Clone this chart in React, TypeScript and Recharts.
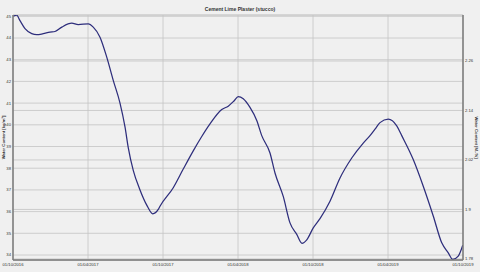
import { LineChart, Line, XAxis, YAxis, CartesianGrid } from 'recharts';

// months since 01/10/2016
const months = [
  0.02, 0.3, 0.56, 0.96, 1.5, 1.9, 2.42, 2.96, 3.36, 3.9, 4.7, 5.22, 6.02, 6.42, 6.96, 7.5,
  8.02, 8.56, 8.96, 9.22, 9.62, 10.16, 10.7, 11.18, 11.62, 11.76, 12.82, 13.62, 14.42, 15.1,
  15.76, 16.7, 17.22, 17.68, 18.02, 18.42, 18.96, 19.5, 19.9, 20.56, 20.96, 21.62, 22.16,
  22.7, 23.12, 23.5, 24.02, 24.56, 25.36, 26.16, 27.1, 28.02, 28.56, 28.96, 29.36, 30.02,
  30.7, 31.1, 32.02, 32.82, 33.62, 34.3, 34.82, 35.18, 35.62, 35.98,
];

// kg/m³
const waterContent = [
  45.0, 45.05, 44.8, 44.43, 44.2, 44.15, 44.2, 44.27, 44.3, 44.5, 44.68, 44.62, 44.65, 44.5,
  44.04, 43.12, 42.05, 41.0, 39.9, 38.95, 37.9, 37.0, 36.3, 35.9, 36.1, 36.25, 37.1, 37.96,
  38.8, 39.46, 40.04, 40.7, 40.86, 41.1, 41.3, 41.2, 40.8, 40.2, 39.5, 38.7, 37.78, 36.7,
  35.48, 34.95, 34.54, 34.7, 35.25, 35.68, 36.48, 37.55, 38.47, 39.16, 39.5, 39.8, 40.1,
  40.26, 39.95, 39.5, 38.4, 37.17, 35.8, 34.56, 34.1, 33.8, 33.95, 34.45,
];

const xTicks = [0, 6, 12, 18, 24, 30, 36];
const dateLabels = ['01/10/2016', '01/04/2017', '01/10/2017', '01/04/2018', '01/10/2018', '01/04/2019', '01/10/2019'];
const leftTicks = [34, 35, 36, 37, 38, 39, 40, 41, 42, 43, 44, 45];
const rightTicks = [1.78, 1.9, 2.02, 2.14, 2.26];

const leftDomain = [33.77, 45.06];
const density = 19; // kg/m³ per M.-%
const rightDomain = [leftDomain[0] / density, leftDomain[1] / density];

const data = months.map((m, i) => ({ m, wc: waterContent[i] }));

const tickStyle = { fontSize: 4.2, fill: '#333', fontFamily: 'Liberation Sans, Arial, sans-serif' };
const axisStroke = '#7a7a7a';

export default function App() {
  return (
    <div style={{ position: 'fixed', left: 0, top: 0, width: 480, height: 272, background: '#f0f0f0' }}>
      <div
        style={{
          position: 'absolute', left: 0, top: 6, width: 480, textAlign: 'center',
          fontSize: 5, fontWeight: 'bold', color: '#333', fontFamily: 'Liberation Sans, Arial, sans-serif',
        }}
      >
        Cement Lime Plaster (stucco)
      </div>
      <LineChart width={480} height={272} data={data} margin={{ top: 15, right: 0, bottom: 0, left: 0 }}>
        <CartesianGrid yAxisId="left" stroke="#c4c4c4" strokeWidth={0.8} vertical horizontal />
        <CartesianGrid yAxisId="right" stroke="#c4c4c4" strokeWidth={0.8} vertical={false} horizontal />
        <XAxis
          dataKey="m"
          type="number"
          domain={[0, 36]}
          ticks={xTicks}
          tickFormatter={(v: number) => dateLabels[xTicks.indexOf(v)] ?? ''}
          height={12}
          interval={0}
          tick={tickStyle}
          tickLine={false}
          tickSize={0}
          tickMargin={3}
          stroke={axisStroke}
          strokeWidth={1.5}
          allowDataOverflow
        />
        <YAxis
          yAxisId="left"
          orientation="left"
          type="number"
          domain={leftDomain}
          ticks={leftTicks}
          width={13}
          interval={0}
          tick={tickStyle}
          tickLine={false}
          tickSize={0}
          tickMargin={2}
          stroke={axisStroke}
          strokeWidth={1.5}
          allowDataOverflow
          label={{ value: 'Water Content [kg/m³]', angle: -90, position: 'insideLeft', offset: 4, style: { ...tickStyle, fontWeight: 'bold', textAnchor: 'middle' } }}
        />
        <YAxis
          yAxisId="right"
          orientation="right"
          type="number"
          domain={rightDomain}
          ticks={rightTicks}
          width={17}
          interval={0}
          tick={tickStyle}
          tickLine={false}
          tickSize={0}
          tickMargin={2}
          stroke={axisStroke}
          strokeWidth={1.5}
          allowDataOverflow
          label={{ value: 'Water Content [M.-%]', angle: 90, position: 'insideRight', offset: 4, style: { ...tickStyle, fontWeight: 'bold', textAnchor: 'middle' } }}
        />
        <Line
          yAxisId="left"
          dataKey="wc"
          type="monotone"
          stroke="#2e2e7c"
          strokeWidth={1.25}
          dot={false}
          isAnimationActive={false}
        />
      </LineChart>
    </div>
  );
}
